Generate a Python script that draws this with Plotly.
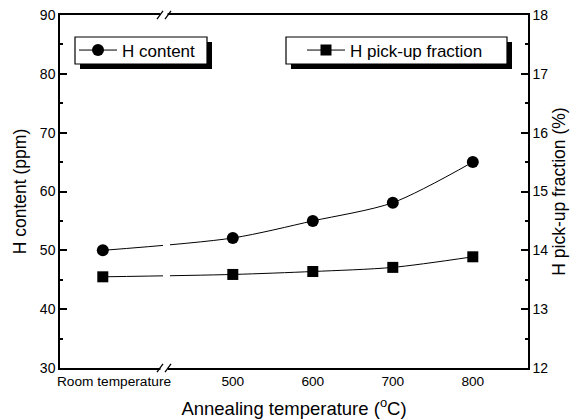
import plotly.graph_objects as go

# ---- data ----
temperatures = ["Room temperature", 500, 600, 700, 800]
h_content_ppm = [50.0, 52.1, 55.0, 58.1, 65.0]
h_pickup_pct = [13.55, 13.59, 13.64, 13.71, 13.89]
x_tick_labels = ["Room temperature", "500", "600", "700", "800"]

# ---- layout helpers ----
room_temp_axis_pos = 337.5    # broken-axis position of the room-temperature points
room_temp_label_pos = 351.5   # label sits a bit right of its points
x_range = [284, 869]
x_vals = [room_temp_axis_pos if isinstance(t, str) else t for t in temperatures]
tick_vals = [room_temp_label_pos if isinstance(t, str) else t for t in temperatures]

L, R, T, B = 60, 49, 15, 52
W, H = 577, 420
PW, PH = W - L - R, H - T - B


def px_x(px):
    return (px - L) / PW


def px_y(py):
    return (H - B - py) / PH


font_family = "Liberation Sans, Arial, Helvetica, sans-serif"

fig = go.Figure()
fig.add_trace(go.Scatter(
    x=x_vals, y=h_content_ppm, name="H content",
    mode="lines+markers", line=dict(color="black", width=1, shape="spline", smoothing=0.8),
    marker=dict(symbol="circle", size=12, color="black"),
    legend="legend", yaxis="y"))
fig.add_trace(go.Scatter(
    x=x_vals, y=h_pickup_pct, name="H pick-up fraction",
    mode="lines+markers", line=dict(color="black", width=1, shape="spline", smoothing=0.8),
    marker=dict(symbol="square", size=11, color="black"),
    legend="legend2", yaxis="y2"))

shapes = []
# gap in the curves (axis break)
shapes.append(dict(type="rect", xref="x", yref="paper", x0=412.75, x1=421.5, y0=0.2, y1=0.8,
                   fillcolor="white", line=dict(width=0), layer="above"))
# gaps in top and bottom axis lines
for yc in (0.0, 1.0):
    shapes.append(dict(type="rect", xref="x", yref="paper", x0=409.5, x1=418.5,
                       y0=yc - 0.008, y1=yc + 0.008,
                       fillcolor="white", line=dict(width=0), layer="above"))
    for (xa, xb) in [(405.25, 412.75), (415.25, 422.75)]:
        shapes.append(dict(type="line", xref="x", yref="paper", x0=xa, x1=xb,
                           y0=yc - 0.0115, y1=yc + 0.0115,
                           line=dict(color="black", width=1.3), layer="above"))
# legend boxes with drop shadows
for (bx0, bx1) in [(75, 207), (286, 507)]:
    shapes.append(dict(type="rect", xref="paper", yref="paper",
                       x0=px_x(bx0 + 5), x1=px_x(bx1 + 5), y0=px_y(69), y1=px_y(42),
                       fillcolor="black", line=dict(width=0), layer="above"))
    shapes.append(dict(type="rect", xref="paper", yref="paper",
                       x0=px_x(bx0), x1=px_x(bx1), y0=px_y(64), y1=px_y(37),
                       fillcolor="white", line=dict(color="black", width=1.2), layer="above"))

legend_common = dict(yanchor="middle", xanchor="left", bgcolor="rgba(0,0,0,0)",
                     borderwidth=0, font=dict(size=17), itemwidth=38, tracegroupgap=0)

fig.update_layout(
    width=W, height=H,
    margin=dict(l=L, r=R, t=T, b=B, autoexpand=False),
    paper_bgcolor="white", plot_bgcolor="white",
    font=dict(family=font_family, color="black", size=14),
    xaxis=dict(range=x_range, tickmode="array", tickvals=tick_vals, ticktext=x_tick_labels,
               showline=True, linecolor="black", linewidth=1.5, mirror=True,
               ticks="", showgrid=False, zeroline=False, automargin=False,
               tickfont=dict(size=13.7),
               title=dict(text="Annealing temperature (<sup>o</sup>C)", font=dict(size=18.5), standoff=14)),
    yaxis=dict(range=[30, 90], dtick=10, showline=True, linecolor="black", linewidth=1.5,
               ticks="inside", ticklen=7, tickwidth=1.5, tickcolor="black",
               minor=dict(dtick=5, ticks="inside", ticklen=3, tickwidth=1.5, tickcolor="black"),
               showgrid=False, zeroline=False, automargin=False, tickfont=dict(size=14),
               title=dict(text="H content (ppm)", font=dict(size=17.5), standoff=9)),
    yaxis2=dict(range=[12, 18], dtick=1, overlaying="y", side="right",
                showline=True, linecolor="black", linewidth=1.5,
                ticks="inside", ticklen=7, tickwidth=1.5, tickcolor="black",
                minor=dict(dtick=0.5, ticks="inside", ticklen=3, tickwidth=1.5, tickcolor="black"),
                showgrid=False, zeroline=False, automargin=False, tickfont=dict(size=14),
                title=dict(text="H pick-up fraction (%)", font=dict(size=17.5), standoff=5)),
    legend=dict(x=px_x(74), y=px_y(50.5), **legend_common),
    legend2=dict(x=px_x(302), y=px_y(50.5), **legend_common),
    shapes=shapes,
    showlegend=True,
)

fig.write_html("out.html")
